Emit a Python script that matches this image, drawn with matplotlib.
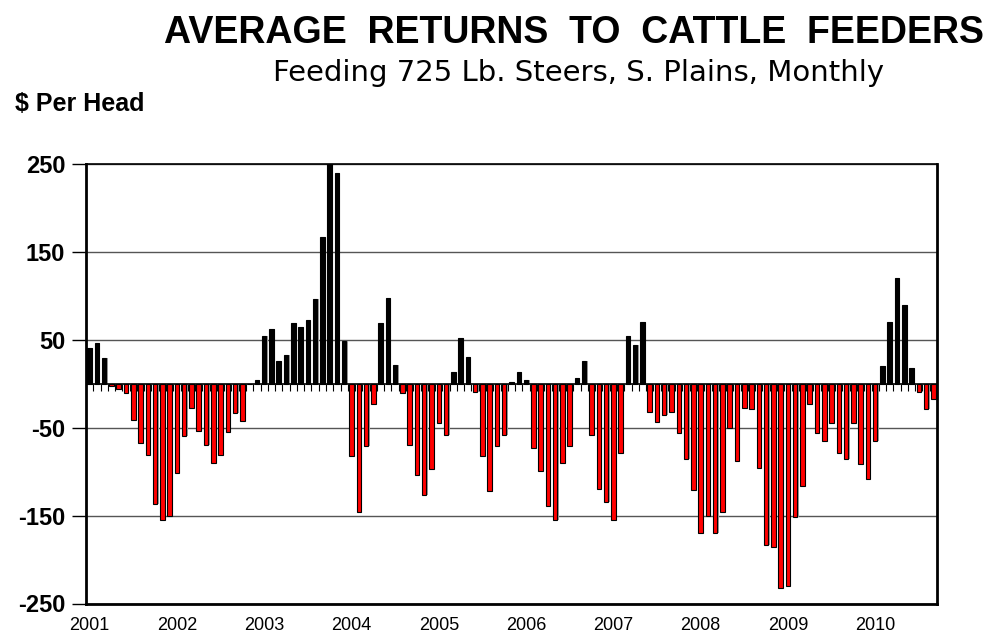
import numpy as np
import matplotlib
matplotlib.use('Agg')
import matplotlib.pyplot as plt

plt.rcParams['font.family'] = ['Liberation Sans', 'DejaVu Sans']

# monthly returns, $ per head, Jan 2001 .. Sep 2010
returns = [
    41, 47, 30, -2, -6, -10, -41, -67, -81, -137, -155, -150,          # 2001
    -102, -59, -27, -54, -69, -90, -81, -55, -33, -42, 0, 4,           # 2002
    55, 63, 26, 33, 69, 65, 73, 97, 167, 263, 240, 49,                 # 2003
    -82, -146, -71, -23, 69, 98, 22, -10, -69, -104, -127, -97,        # 2004
    -45, -58, 14, 52, 31, -9, -82, -122, -71, -58, 2, 13,              # 2005
    5, -73, -99, -139, -155, -90, -71, 7, 26, -58, -120, -134,         # 2006
    -155, -79, 54, 44, 71, -32, -43, -35, -32, -56, -86, -121,         # 2007
    -170, -150, -170, -146, -50, -88, -27, -29, -96, -183, -186, -232, # 2008
    -230, -151, -116, -23, -56, -65, -44, -79, -86, -44, -91, -108,    # 2009
    -65, 20, 70, 121, 90, 18, -9, -29, -17,                            # 2010
]
years = ['2001', '2002', '2003', '2004', '2005', '2006', '2007', '2008', '2009', '2010']
y_ticks = [-250, -150, -50, 50, 150, 250]

vals = np.array(returns)
n = len(vals)
x = np.arange(n)
colors = ['black' if v > 0 else '#ff0000' for v in vals]

fig = plt.figure(figsize=(10.04, 6.43), dpi=100)
ax = fig.add_axes([86 / 1004, 1 - 603.5 / 643, 851 / 1004, (603.5 - 164.3) / 643])

# grey drop shadow, then the bars
ax.bar(x + 0.18, vals, width=0.6, color='#9a9a9a', linewidth=0, zorder=2)
ax.bar(x, vals, width=0.62, color=colors, edgecolor='black', linewidth=0.8, zorder=3)

# zero line with small ticks between months
ax.axhline(0, color='black', linewidth=1.2, zorder=4)
ax.vlines(np.arange(1, n) - 0.5, -8, 0, color='black', linewidth=0.8, zorder=4)

ax.set_xlim(-0.5, n - 0.5)
ax.set_ylim(-250, 250)
ax.set_yticks(y_ticks)
ax.set_yticklabels([str(t) for t in y_ticks], fontsize=17, fontweight='bold')
ax.yaxis.grid(True, color='#555555', linewidth=1.0, zorder=0)
ax.set_axisbelow(True)
ax.tick_params(axis='y', length=10, width=1, direction='out', pad=5)

ax.set_xticks(np.arange(len(years)) * 12)
ax.set_xticklabels(years, fontsize=13)
ax.tick_params(axis='x', length=0, pad=10)

for side in ['left', 'bottom', 'right', 'top']:
    ax.spines[side].set_linewidth(2)
    ax.spines[side].set_color('black')
ax.spines['top'].set_linewidth(1.2)

fig.text(0.572, 1 - 33 / 643, 'AVERAGE  RETURNS  TO  CATTLE  FEEDERS', ha='center', va='center',
         fontsize=27, fontweight='bold')
fig.text(0.576, 1 - 73 / 643, 'Feeding 725 Lb. Steers, S. Plains, Monthly', ha='center', va='center',
         fontsize=21, family=['DejaVu Sans'])
fig.text(15 / 1004, 1 - 104 / 643, '$ Per Head', ha='left', va='center', fontsize=18, fontweight='bold')

fig.savefig('out.png', dpi=100)
